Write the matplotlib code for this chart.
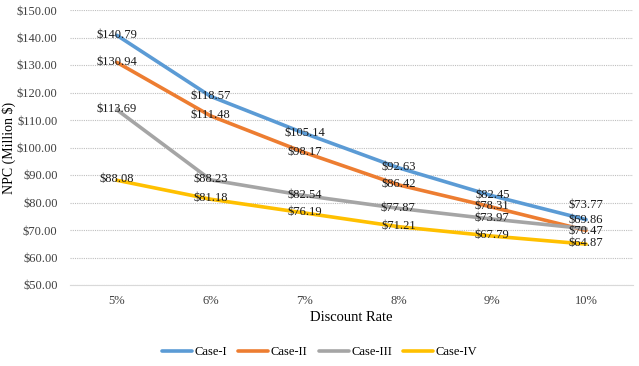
import matplotlib.pyplot as plt

# data
rates = ["5%", "6%", "7%", "8%", "9%", "10%"]
case_1 = [140.79, 118.57, 105.14, 92.63, 82.45, 73.77]
case_2 = [130.94, 111.48, 98.17, 86.42, 78.31, 69.86]
case_3 = [113.69, 88.23, 82.54, 77.87, 73.97, 70.47]
case_4 = [88.08, 81.18, 76.19, 71.21, 67.79, 64.87]
series_names = ["Case-I", "Case-II", "Case-III", "Case-IV"]

colors = ["#5B9BD5", "#ED7D31", "#A5A5A5", "#FFC000"]

plt.rcParams['font.family'] = ['Liberation Serif', 'DejaVu Serif']

fig = plt.figure(figsize=(6.39, 3.66), dpi=100)
ax = fig.add_axes([70 / 639, 1 - 285 / 366, 563 / 639, 275 / 366])

x = list(range(len(rates)))
all_series = [case_1, case_2, case_3, case_4]
for vals, name, col in zip(all_series, series_names, colors):
    ax.plot(x, vals, color=col, linewidth=2.6, label=name, solid_capstyle='round')

# data labels, nudged a little where they overlap at 10%
offsets = {(0, 5): 5.3, (1, 5): 3.6, (2, 5): -0.9}
for si, vals in enumerate(all_series):
    for i, v in enumerate(vals):
        dy = offsets.get((si, i), 0.3)
        ax.text(i, v + dy, f"${v:.2f}", ha='center', va='center',
                fontsize=9, color='#1a1a1a')

ax.set_xlim(-0.5, len(rates) - 0.5)
ax.set_ylim(50, 150)
ax.set_yticks(range(50, 151, 10))
ax.set_yticklabels([f"${t:.2f}" for t in range(50, 151, 10)])
ax.set_xticks(x)
ax.set_xticklabels(rates)
ax.tick_params(length=0, labelsize=9, colors='#404040')
ax.tick_params(axis='x', pad=7)
ax.tick_params(axis='y', pad=9)

ax.grid(axis='y', color='#bfbfbf', linestyle=(0, (1, 1)), linewidth=0.8)
ax.set_axisbelow(True)
for s in ['top', 'right', 'left']:
    ax.spines[s].set_visible(False)
ax.spines['bottom'].set_color('#d9d9d9')

ax.set_xlabel("Discount Rate", fontsize=10.5, labelpad=3)
fig.text(9 / 639, 1 - 148 / 366, "NPC (Million $)", rotation=90,
         ha='center', va='center', fontsize=10)

fig.legend(loc='center', bbox_to_anchor=(0.5, 1 - 352 / 366), ncol=4,
           frameon=False, fontsize=9, handlelength=2.4, columnspacing=0.9,
           handletextpad=0.2)

fig.savefig("out.png", dpi=100)
